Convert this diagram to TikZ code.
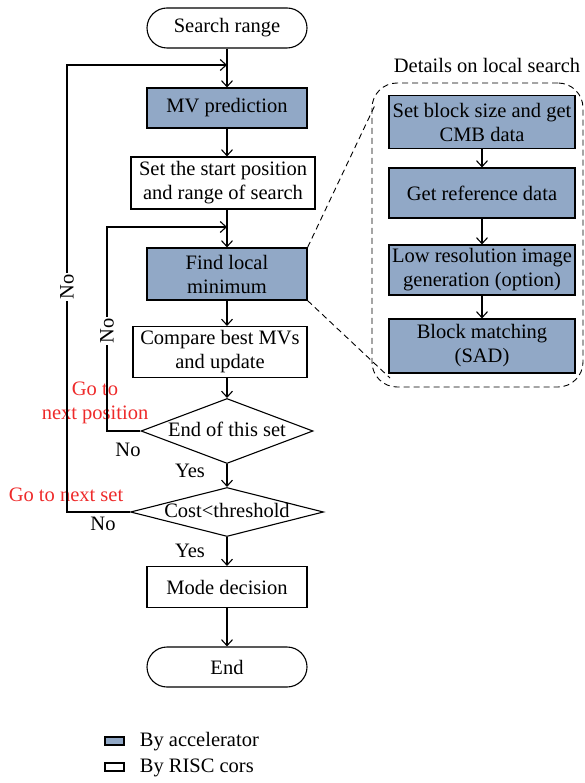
\documentclass[tikz,border=0pt]{standalone}
\usepackage{fontspec}
\setmainfont{Liberation Serif}
\usetikzlibrary{shapes.geometric,arrows.meta}

\definecolor{accblue}{HTML}{91A8C6}
\definecolor{jumpred}{HTML}{EE2A2A}
\newcommand{\flowfont}{\fontsize{20.5}{24}\selectfont}

\tikzstyle{terminal} = [draw=black,rectangle,rounded corners=20pt,minimum width=160pt,minimum height=40pt,font=\flowfont]
\tikzstyle{risc} = [draw=black,rectangle,align=center,font=\flowfont,inner sep=1.5pt]
\tikzstyle{accbox} = [risc,fill=accblue]
\tikzstyle{decision} = [draw=black,diamond,shape aspect=4,inner sep=0pt,text height=10pt,text depth=0pt,font=\flowfont]
\tikzstyle{note} = [font=\flowfont]
\tikzstyle{jump} = [font=\flowfont,text=jumpred,align=center]
\tikzstyle{link} = [draw=black,-{Straight Barb[length=6pt,width=11pt]}]
\tikzstyle{zoomline} = [draw=black,line width=0.9pt,dash pattern=on 6pt off 4pt]

\begin{document}
\begin{tikzpicture}[x=1pt,y=-1pt,line width=1.1pt]
	\useasboundingbox (0,0) rectangle (585,783);
	% main flow
	\node (start) [terminal] at (227,28) {Search range};
	\node (mvpred) [accbox,minimum width=160pt,minimum height=40pt] at (227,108) {MV prediction};
	\node (setpos) [risc,minimum width=184pt,minimum height=52pt] at (223,183) {Set the start position\\and range of search};
	\node (findmin) [accbox,minimum width=160pt,minimum height=52pt] at (227,274) {Find local\\minimum};
	\node (compare) [risc,minimum width=174pt,minimum height=51pt] at (220,352) {Compare best MVs\\and update};
	\node (endset) [decision,minimum width=172pt,minimum height=65pt] at (227,431) {End of this set};
	\node (cost) [decision,minimum width=193pt,minimum height=49pt] at (227,512) {Cost<threshold};
	\node (mode) [risc,minimum width=160pt,minimum height=41pt] at (227,587) {Mode decision};
	\node (stop) [terminal] at (227,667) {End};
	\coordinate (join1) at (227,65);
	\coordinate (join2) at (227,227);
	% labels
	\node (setno) [note,rotate=90,fill=white,inner sep=1pt] at (67,287) {No};
	\node (posno) [note,rotate=90,fill=white,inner sep=1pt] at (107,331) {No};
	\node (gopos) [jump] at (95,403) {Go to\\next position};
	\node (endno) [note] at (128,450) {No};
	\node (endyes) [note] at (190,471) {Yes};
	\node (goset) [jump] at (66,495) {Go to next set};
	\node (costno) [note] at (103,524) {No};
	\node (costyes) [note] at (190,551) {Yes};
	% details on local search
	\node (dtitle) [note] at (487,65) {Details on local search};
	\node (detail) [zoomline,rectangle,rounded corners=25pt,minimum width=211pt,minimum height=304pt] at (477.5,235) {};
	\node (blk1) [accbox,minimum width=186pt,minimum height=53pt] at (482,122) {Set block size and get\\CMB data};
	\node (blk2) [accbox,minimum width=186pt,minimum height=50pt] at (482,193) {Get reference data};
	\node (blk3) [accbox,minimum width=186pt,minimum height=50pt] at (482,270) {Low resolution image\\generation (option)};
	\node (blk4) [accbox,minimum width=186pt,minimum height=54pt] at (482,346) {Block matching\\(SAD)};
	\coordinate (zoomtop) at (376,103);
	\coordinate (zoombot) at (390,378);
	% legend
	\node (keyacc) [draw,fill=accblue,minimum width=19pt,minimum height=8pt,inner sep=0pt] at (114.5,741) {};
	\node (keyaccl) [note,anchor=west] at (136,742) {By accelerator};
	\node (keyrisc) [draw,minimum width=19pt,minimum height=8pt,inner sep=0pt] at (114.5,767) {};
	\node (keyriscl) [note,anchor=west] at (136,768) {By RISC cors};
	% connections
	\draw [link] (start) -- (mvpred);
	\draw [link] (mvpred) -- (mvpred |- setpos.north);
	\draw [link] (setpos.south -| findmin) -- (findmin);
	\draw [link] (findmin) -- (findmin |- compare.north);
	\draw [link] (compare.south -| endset) -- (endset);
	\draw [link] (endset) -- (cost);
	\draw [link] (cost) -- (mode);
	\draw [link] (mode) -- (stop);
	\draw [link] (cost.west) -| ([xshift=-160pt]join1) -- (join1);
	\draw [link] (endset.west) -| ([xshift=-120pt]join2) -- (join2);
	\draw [link] (blk1) -- (blk2);
	\draw [link] (blk2) -- (blk3);
	\draw [link] (blk3) -- (blk4);
	\draw [zoomline] (findmin.north east) -- (zoomtop);
	\draw [zoomline] (findmin.south east) -- (zoombot);
	% labels on top of the loop lines
	\node [note,rotate=90,fill=white,inner sep=1pt] at (setno) {No};
	\node [note,rotate=90,fill=white,inner sep=1pt] at (posno) {No};
\end{tikzpicture}
\end{document}
